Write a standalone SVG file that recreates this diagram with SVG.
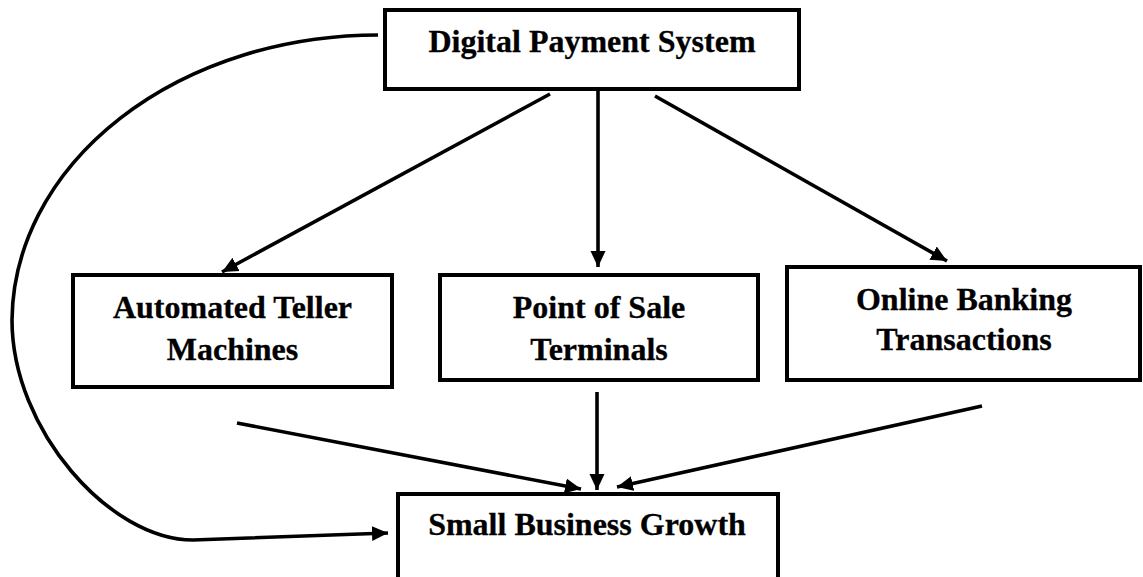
<svg xmlns="http://www.w3.org/2000/svg" width="1143" height="577" viewBox="0 0 1143 577">
  <style>
    .box { fill: #ffffff; stroke: #000000; stroke-width: 4; }
    .label { font-family: "Liberation Serif", "Times New Roman", serif; font-weight: bold; font-size: 32px; fill: #000000; stroke: #000000; stroke-width: 0.3; text-anchor: middle; }
    .link { fill: none; stroke: #000000; stroke-width: 3.6; marker-end: url(#head); }
  </style>
  <defs>
    <!-- solid triangular arrowhead shared by every connector -->
    <marker id="head" viewBox="0 0 10 10" refX="10" refY="5" markerUnits="userSpaceOnUse" markerWidth="16" markerHeight="16" orient="auto">
      <path d="M0,0.3 L10,5 L0,9.7 Z" fill="#000000"/>
    </marker>
  </defs>
  <rect width="1143" height="577" fill="#ffffff"/>

  <g id="connectors">
    <path class="link" d="M378,35 A366,287 0 0 0 12,320 C12,430 110,540 193,540 L388,533"/>
    <line class="link" x1="550" y1="94" x2="222" y2="272"/>
    <line class="link" x1="598" y1="90" x2="598" y2="267"/>
    <line class="link" x1="655" y1="96" x2="947" y2="261"/>
    <line class="link" x1="237" y1="423" x2="581" y2="489"/>
    <line class="link" x1="597" y1="392" x2="597" y2="490"/>
    <line class="link" x1="982" y1="406" x2="617" y2="487"/>
  </g>

  <g id="digital-payment-system">
    <rect class="box" x="385" y="10" width="414" height="79"/>
    <text class="label" x="592" y="52">Digital Payment System</text>
  </g>

  <g id="automated-teller-machines">
    <rect class="box" x="73" y="275" width="319" height="112"/>
    <text class="label" x="232.5" y="318">Automated Teller</text>
    <text class="label" x="232.5" y="360">Machines</text>
  </g>

  <g id="point-of-sale-terminals">
    <rect class="box" x="440" y="275" width="318" height="105"/>
    <text class="label" x="599" y="318">Point of Sale</text>
    <text class="label" x="599" y="360">Terminals</text>
  </g>

  <g id="online-banking-transactions">
    <rect class="box" x="787" y="267" width="353" height="113"/>
    <text class="label" x="964" y="310">Online Banking</text>
    <text class="label" x="964" y="350">Transactions</text>
  </g>

  <g id="small-business-growth">
    <rect class="box" x="398" y="494" width="380" height="95"/>
    <text class="label" x="587" y="535">Small Business Growth</text>
  </g>
</svg>
